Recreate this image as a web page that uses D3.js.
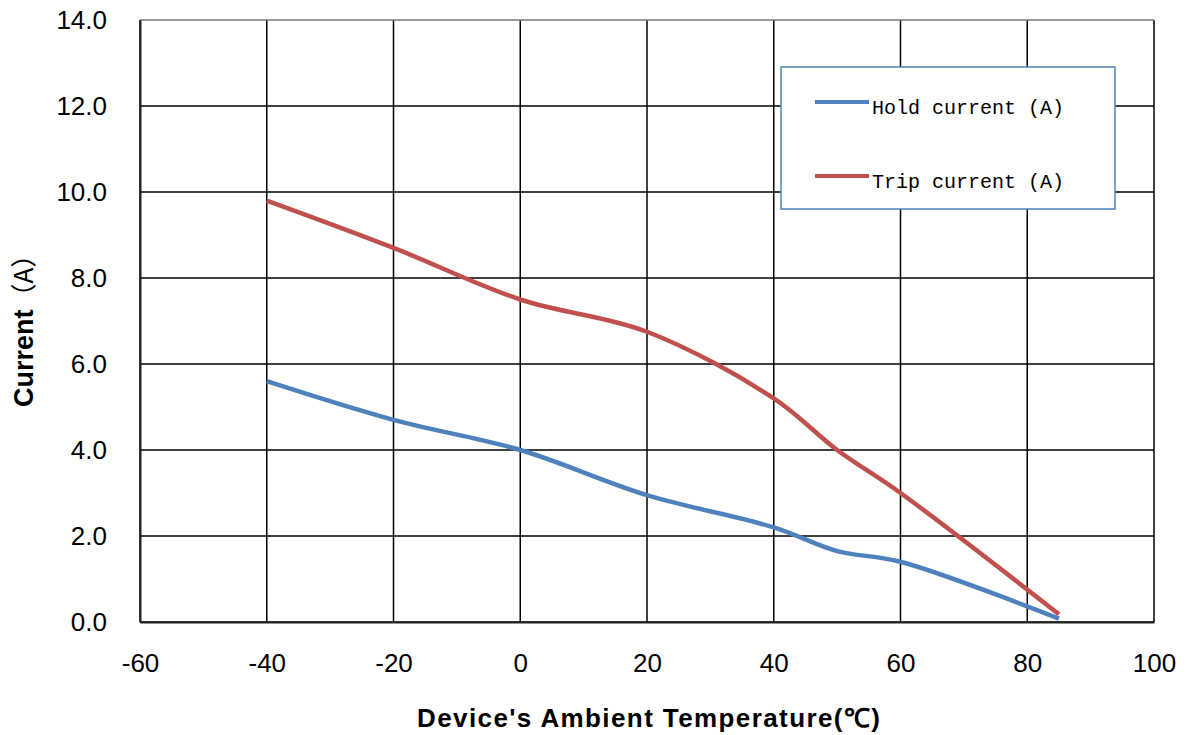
<!DOCTYPE html>
<html>
<head>
<meta charset="utf-8">
<script src="https://cdn.jsdelivr.net/npm/d3@7"></script>
<style>
  body { margin: 0; background: #fff; }
  svg { display: block; }
</style>
</head>
<body>
<div id="chart"></div>
<script>
// values
const temps = [-40, -20, 0, 20, 40, 50, 60, 85];
const holdCurrent = [5.6, 4.7, 4.0, 2.95, 2.2, 1.65, 1.4, 0.08];
const tripCurrent = [9.8, 8.7, 7.5, 6.75, 5.2, 4.0, 3.0, 0.18];
const xTicks = [-60, -40, -20, 0, 20, 40, 60, 80, 100];
const yTicks = [0, 2, 4, 6, 8, 10, 12, 14];
const seriesNames = ['Hold current (A)', 'Trip current (A)'];
const seriesColors = ['#4F81BD', '#C0504D'];

const width = 1187, height = 735;
const margin = {left: 140, right: 33, top: 20, bottom: 113};

const svg = d3.select('#chart').append('svg')
    .attr('width', width)
    .attr('height', height);

const x = d3.scaleLinear()
    .domain([-60, 100])
    .range([margin.left, width - margin.right]);

const y = d3.scaleLinear()
    .domain([0, 14])
    .range([height - margin.bottom, margin.top]);

// grid
const grid = svg.append('g');
grid.selectAll('line.v')
    .data(xTicks)
    .enter().append('line')
    .attr('x1', d => x(d)).attr('x2', d => x(d))
    .attr('y1', y(0)).attr('y2', y(14))
    .attr('stroke', '#000')
    .attr('stroke-width', 1.5);
grid.selectAll('line.h')
    .data(yTicks)
    .enter().append('line')
    .attr('x1', x(-60)).attr('x2', x(100))
    .attr('y1', d => y(d)).attr('y2', d => y(d))
    .attr('stroke', d => d === 14 ? '#777' : '#000')
    .attr('stroke-width', 1.5);

// axes (labels only, no tick marks)
const xAxis = svg.append('g')
    .attr('transform', 'translate(0,' + y(0) + ')')
    .call(d3.axisBottom(x).tickValues(xTicks).tickSize(0).tickPadding(32).tickFormat(d => String(d)));
const yAxis = svg.append('g')
    .attr('transform', 'translate(' + x(-60) + ',0)')
    .call(d3.axisLeft(y).tickValues(yTicks).tickSize(0).tickPadding(33).tickFormat(d3.format('.1f')));

[xAxis, yAxis].forEach(ax => {
    ax.select('.domain').attr('stroke', '#222').attr('stroke-width', 2);
    ax.selectAll('text')
        .attr('font-family', 'Liberation Sans, Arial, sans-serif')
        .attr('font-size', 26)
        .attr('fill', '#000');
});

// series
const line = d3.line()
    .x(d => x(d[0]))
    .y(d => y(d[1]))
    .curve(d3.curveCatmullRom.alpha(0.5));

[holdCurrent, tripCurrent].forEach((vals, i) => {
    svg.append('path')
        .datum(temps.map((t, j) => [t, vals[j]]))
        .attr('d', line)
        .attr('fill', 'none')
        .attr('stroke', seriesColors[i])
        .attr('stroke-width', 4.5)
        .attr('stroke-linejoin', 'round');
});

// legend
const legend = svg.append('g');
legend.append('rect')
    .attr('x', 781).attr('y', 67)
    .attr('width', 334).attr('height', 142)
    .attr('fill', '#fff')
    .attr('stroke', '#4F81BD')
    .attr('stroke-width', 1.5);
seriesNames.forEach((name, i) => {
    const ly = 102 + i * 74;
    legend.append('line')
        .attr('x1', 815).attr('x2', 869)
        .attr('y1', ly).attr('y2', ly)
        .attr('stroke', seriesColors[i])
        .attr('stroke-width', 4);
    legend.append('text')
        .attr('x', 872).attr('y', ly + 12)
        .attr('font-family', 'Liberation Mono, monospace')
        .attr('font-size', 20)
        .attr('fill', '#000')
        .text(name);
});

// axis titles
svg.append('text')
    .attr('x', 417)
    .attr('y', 727)
    .attr('textLength', 463)
    .attr('lengthAdjust', 'spacing')
    .attr('font-family', 'Liberation Sans, Arial, sans-serif')
    .attr('font-weight', 'bold')
    .attr('font-size', 26)
    .text('Device\'s Ambient Temperature(℃)');

const yTitle = svg.append('text')
    .attr('transform', 'translate(33,407) rotate(-90)')
    .attr('font-family', 'Liberation Sans, Arial, sans-serif')
    .attr('font-size', 27);
yTitle.append('tspan').attr('font-weight', 'bold').text('Current');
yTitle.append('tspan').attr('font-family', 'Noto Sans CJK SC, sans-serif').attr('font-size', 26).text('（A）');
</script>
</body>
</html>
